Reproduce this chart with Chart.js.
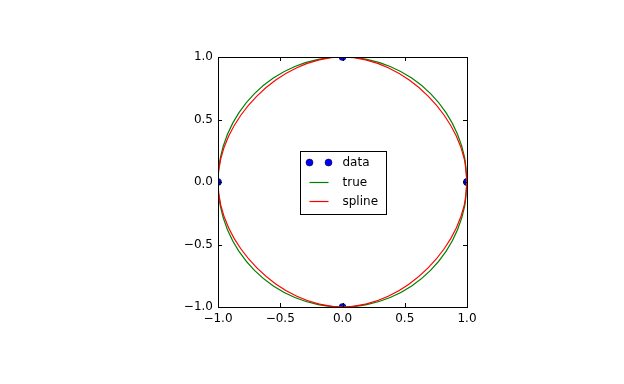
<!DOCTYPE html>
<html lang="en">
<head>
    <meta charset="UTF-8">
    <title>Spline vs circle</title>
    <script src="https://cdn.jsdelivr.net/npm/chart.js"></script>
    <style>
        body {
            margin: 0;
            background: #fff;
        }
        #chart-container {
            width: 624px;
            height: 384px;
        }
    </style>
</head>
<body>
    <div id="chart-container">
        <canvas id="spline-chart" width="624" height="384"></canvas>
    </div>

    <script>
        // sample points
        const dataX = [1, 0, -1, 0, 1];
        const dataY = [0, 1, 0, -1, 0];

        // true circle
        const trueX = [1, 0.9808, 0.9239, 0.8315, 0.7071, 0.5556, 0.3827, 0.1951, 0, -0.1951, -0.3827, -0.5556, -0.7071, -0.8315, -0.9239, -0.9808,
            -1, -0.9808, -0.9239, -0.8315, -0.7071, -0.5556, -0.3827, -0.1951, 0, 0.1951, 0.3827, 0.5556, 0.7071, 0.8315, 0.9239, 0.9808, 1];
        const trueY = [0, 0.1951, 0.3827, 0.5556, 0.7071, 0.8315, 0.9239, 0.9808, 1, 0.9808, 0.9239, 0.8315, 0.7071, 0.5556, 0.3827, 0.1951,
            0, -0.1951, -0.3827, -0.5556, -0.7071, -0.8315, -0.9239, -0.9808, -1, -0.9808, -0.9239, -0.8315, -0.7071, -0.5556, -0.3827, -0.1951, 0];

        // periodic spline through the samples
        const splineX = [1, 0.9775, 0.9141, 0.8154, 0.6875, 0.5361, 0.3672, 0.1865, 0, -0.1865, -0.3672, -0.5361, -0.6875, -0.8154, -0.9141, -0.9775,
            -1, -0.9775, -0.9141, -0.8154, -0.6875, -0.5361, -0.3672, -0.1865, 0, 0.1865, 0.3672, 0.5361, 0.6875, 0.8154, 0.9141, 0.9775, 1];
        const splineY = [0, 0.1865, 0.3672, 0.5361, 0.6875, 0.8154, 0.9141, 0.9775, 1, 0.9775, 0.9141, 0.8154, 0.6875, 0.5361, 0.3672, 0.1865,
            0, -0.1865, -0.3672, -0.5361, -0.6875, -0.8154, -0.9141, -0.9775, -1, -0.9775, -0.9141, -0.8154, -0.6875, -0.5361, -0.3672, -0.1865, 0];

        const tickVals = [-1.0, -0.5, 0.0, 0.5, 1.0];
        const labels = ['data', 'true', 'spline'];

        const FONT = 'DejaVu Sans';
        const toPts = (xs, ys) => xs.map((x, i) => ({ x: x, y: ys[i] }));
        const fmt = v => (v < 0 ? '\u2212' : '') + Math.abs(v).toFixed(1);

        // frame, inward ticks on all four sides, and the legend box
        const framePlugin = {
            id: 'frame',
            afterDraw(chart) {
                const c = chart.ctx;
                const a = chart.chartArea;
                const xs = chart.scales.x, ys = chart.scales.y;
                c.save();
                c.strokeStyle = '#000';
                c.lineWidth = 1;
                c.beginPath();
                tickVals.forEach(v => {
                    const px = Math.round(xs.getPixelForValue(v)) + 0.5;
                    c.moveTo(px, a.bottom); c.lineTo(px, a.bottom - 4);
                    c.moveTo(px, a.top); c.lineTo(px, a.top + 4);
                    const py = Math.round(ys.getPixelForValue(v)) + 0.5;
                    c.moveTo(a.left, py); c.lineTo(a.left + 4, py);
                    c.moveTo(a.right, py); c.lineTo(a.right - 4, py);
                });
                c.stroke();
                c.strokeRect(Math.round(a.left) + 0.5, Math.round(a.top) + 0.5,
                    Math.round(a.right - a.left), Math.round(a.bottom - a.top));

                // legend
                const cx = (a.left + a.right) / 2, cy = (a.top + a.bottom) / 2;
                const w = 86, h = 63;
                const lx = Math.round(cx - 43) + 0.5, ly = Math.round(cy - 31) + 0.5;
                c.fillStyle = '#fff';
                c.fillRect(lx, ly, w, h);
                c.strokeRect(lx, ly, w, h);
                const rows = [ly + 11, ly + 31, ly + 50];
                const h0 = lx + 9, h1 = lx + 28;
                chart.data.datasets.forEach((ds, i) => {
                    const y = rows[i];
                    if (i === 0) {
                        [h0, h1].forEach(px => {
                            c.beginPath();
                            c.arc(px, y, 3.5, 0, Math.PI * 2);
                            c.fillStyle = ds.backgroundColor;
                            c.fill();
                            c.lineWidth = 0.5;
                            c.strokeStyle = '#000';
                            c.stroke();
                        });
                    } else {
                        c.beginPath();
                        c.moveTo(h0, y); c.lineTo(h1, y);
                        c.lineWidth = 1.2;
                        c.strokeStyle = ds.borderColor;
                        c.stroke();
                    }
                    c.fillStyle = '#000';
                    c.font = '12px "' + FONT + '"';
                    c.textBaseline = 'middle';
                    c.textAlign = 'left';
                    c.fillText(ds.label, lx + 42, y);
                });
                c.restore();
            }
        };

        const config = {
            type: 'scatter',
            data: {
                datasets: [{
                    label: labels[0],
                    data: toPts(dataX, dataY),
                    backgroundColor: '#0000ff',
                    borderColor: '#000',
                    borderWidth: 0.5,
                    pointRadius: 3.5,
                    showLine: false,
                    clip: 0,
                    order: 3
                }, {
                    label: labels[1],
                    data: toPts(trueX, trueY),
                    borderColor: '#008000',
                    borderWidth: 1.2,
                    pointRadius: 0,
                    showLine: true,
                    tension: 0.33,
                    clip: 0,
                    order: 2
                }, {
                    label: labels[2],
                    data: toPts(splineX, splineY),
                    borderColor: '#ff0000',
                    borderWidth: 1.2,
                    pointRadius: 0,
                    showLine: true,
                    tension: 0.33,
                    clip: 0,
                    order: 1
                }]
            },
            options: {
                responsive: false,
                animation: false,
                layout: { padding: { top: 57, right: 157, left: 0, bottom: 0 } },
                plugins: {
                    legend: { display: false },
                    tooltip: { enabled: false }
                },
                scales: {
                    x: {
                        type: 'linear',
                        min: -1,
                        max: 1,
                        afterBuildTicks: s => { s.ticks = tickVals.map(v => ({ value: v })); },
                        afterFit: s => { s.height = 77; },
                        grid: { display: false, drawTicks: false },
                        border: { display: false },
                        ticks: {
                            color: '#000',
                            padding: 5,
                            maxRotation: 0,
                            font: { family: FONT, size: 12 },
                            callback: v => fmt(v)
                        }
                    },
                    y: {
                        type: 'linear',
                        min: -1,
                        max: 1,
                        afterBuildTicks: s => { s.ticks = tickVals.map(v => ({ value: v })); },
                        afterFit: s => { s.width = 218; },
                        grid: { display: false, drawTicks: false },
                        border: { display: false },
                        ticks: {
                            color: '#000',
                            padding: 5,
                            font: { family: FONT, size: 12 },
                            callback: v => fmt(v)
                        }
                    }
                }
            },
            plugins: [framePlugin]
        };

        const ctx = document.getElementById('spline-chart').getContext('2d');
        const splineChart = new Chart(ctx, config);
    </script>
</body>
</html>
